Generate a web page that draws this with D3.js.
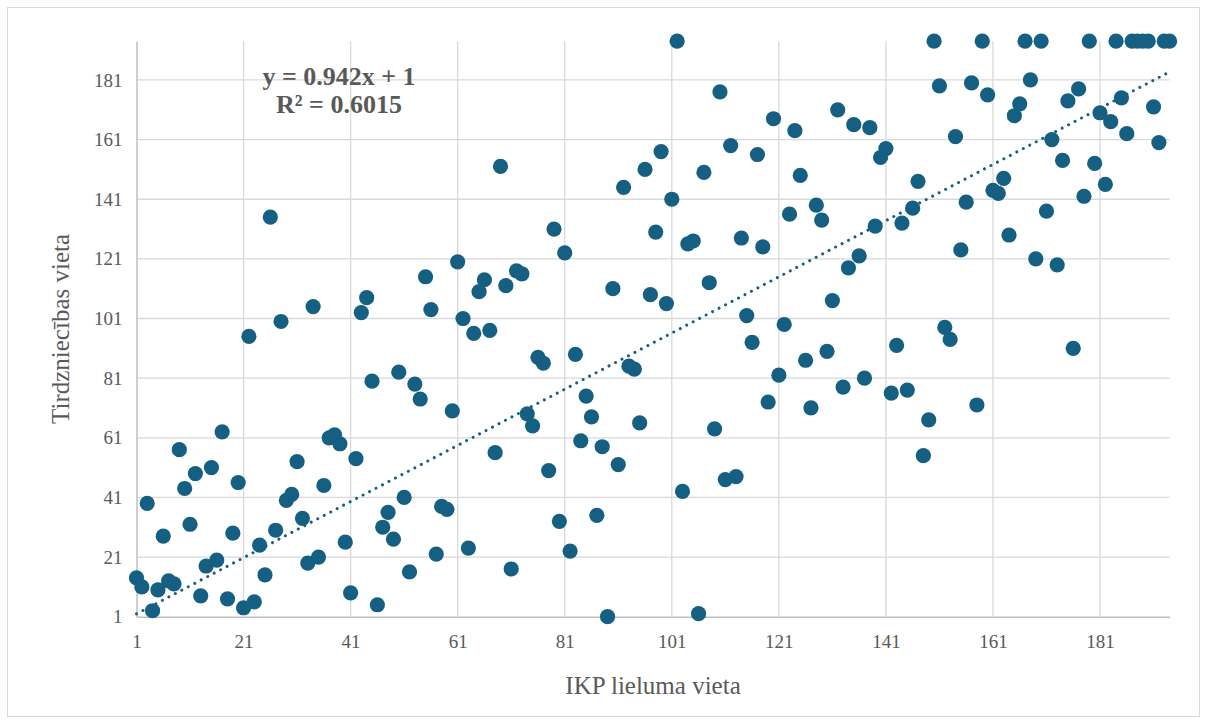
<!DOCTYPE html>
<html>
<head>
<meta charset="utf-8">
<script src="https://cdn.jsdelivr.net/npm/d3@7"></script>
<style>
  html, body { margin: 0; padding: 0; background: #fff; }
  svg { display: block; font-family: "Liberation Serif", "Times New Roman", serif; }
</style>
</head>
<body>
<svg id="chart" width="1207" height="724"></svg>
<script>
// Scatter: GDP size rank (x) vs trade rank (y), with a dotted linear trendline.

// x = IKP lieluma vieta, y = Tirdzniecības vieta (one point per country)
const gdpRank = [
  1, 2, 3, 4, 5, 6, 7, 8, 9, 10, 11, 12, 13, 14, 15, 16, 17, 18, 19, 20,
  21, 22, 23, 24, 25, 26, 27, 28, 29, 30, 31, 32, 33, 34, 35, 36, 37, 38, 39, 40,
  41, 42, 43, 44, 45, 46, 47, 48, 49, 50, 51, 52, 53, 54, 55, 56, 57, 58, 59, 60,
  61, 62, 63, 64, 65, 66, 67, 68, 69, 70, 71, 72, 73, 74, 75, 76, 77, 78, 79, 80,
  81, 82, 83, 84, 85, 86, 87, 88, 89, 90, 91, 92, 93, 94, 95, 96, 97, 98, 99, 100,
  101, 102, 103, 104, 105, 106, 107, 108, 109, 110, 111, 112, 113, 114, 115, 116, 117, 118, 119, 120,
  121, 122, 123, 124, 125, 126, 127, 128, 129, 130, 131, 132, 133, 134, 135, 136, 137, 138, 139, 140,
  141, 142, 143, 144, 145, 146, 147, 148, 149, 150, 151, 152, 153, 154, 155, 156, 157, 158, 159, 160,
  161, 162, 163, 164, 165, 166, 167, 168, 169, 170, 171, 172, 173, 174, 175, 176, 177, 178, 179, 180,
  181, 182, 183, 184, 185, 186, 187, 188, 189, 190, 191, 192, 193, 194
];
const tradeRank = [
  14, 11, 39, 3, 10, 28, 13, 12, 57, 44, 32, 49, 8, 18, 51, 20, 63, 7, 29, 46,
  4, 95, 6, 25, 15, 135, 30, 100, 40, 42, 53, 34, 19, 105, 21, 45, 61, 62, 59, 26,
  9, 54, 103, 108, 80, 5, 31, 36, 27, 83, 41, 16, 79, 74, 115, 104, 22, 38, 37, 70,
  120, 101, 24, 96, 110, 114, 97, 56, 152, 112, 17, 117, 116, 69, 65, 88, 86, 50, 131, 33,
  123, 23, 89, 60, 75, 68, 35, 58, 1, 111, 52, 145, 85, 84, 66, 151, 109, 130, 157, 106,
  141, 194, 43, 126, 127, 2, 150, 113, 64, 177, 47, 159, 48, 128, 102, 93, 156, 125, 73, 168,
  82, 99, 136, 164, 149, 87, 71, 139, 134, 90, 107, 171, 78, 118, 166, 122, 81, 165, 132, 155,
  158, 76, 92, 133, 77, 138, 147, 55, 67, 194, 179, 98, 94, 162, 124, 140, 180, 72, 194, 176,
  144, 143, 148, 129, 169, 173, 194, 181, 121, 194, 137, 161, 119, 154, 174, 91, 178, 142, 194, 153,
  170, 146, 167, 194, 175, 163, 194, 194, 194, 194, 172, 160, 194, 194
];

const tickValues = [1, 21, 41, 61, 81, 101, 121, 141, 161, 181];
const axisDomain = [1, 194];
const trendSlope = 0.942;
const trendIntercept = 1;
const equationLines = ["y = 0.942x + 1", "R² = 0.6015"];
const xTitle = "IKP lieluma vieta";
const yTitle = "Tirdzniecības vieta";

(() => {
  "use strict";

  const WIDTH = 1207;
  const HEIGHT = 724;
  const PLOT_LEFT = 136.5;
  const PLOT_RIGHT = 1169.6;
  const PLOT_TOP = 41.2;
  const PLOT_BOTTOM = 616.7;
  const POINT_RADIUS = 7.6;

  const COLOR_POINT = "#156082";
  const COLOR_GRID = "#d9d9d9";
  const COLOR_AXIS = "#bfbfbf";
  const COLOR_TEXT = "#595959";

  const svg = d3.select("#chart")
    .attr("viewBox", [0, 0, WIDTH, HEIGHT]);

  // Chart frame
  svg.append("rect")
    .attr("x", 7.5)
    .attr("y", 7.5)
    .attr("width", WIDTH - 15)
    .attr("height", HEIGHT - 15)
    .attr("fill", "#fff")
    .attr("stroke", "#d9d9d9")
    .attr("stroke-width", 1);

  const x = d3.scaleLinear().domain(axisDomain).range([PLOT_LEFT, PLOT_RIGHT]);
  const y = d3.scaleLinear().domain(axisDomain).range([PLOT_BOTTOM, PLOT_TOP]);

  // Gridlines
  const gridEl = svg.append("g").attr("class", "grid");
  gridEl.selectAll("line.v")
    .data(tickValues.slice(1))
    .join("line")
    .attr("class", "v")
    .attr("x1", (d) => x(d)).attr("x2", (d) => x(d))
    .attr("y1", PLOT_TOP).attr("y2", PLOT_BOTTOM)
    .attr("stroke", COLOR_GRID)
    .attr("stroke-width", 1.3);
  gridEl.selectAll("line.h")
    .data(tickValues.slice(1))
    .join("line")
    .attr("class", "h")
    .attr("x1", PLOT_LEFT).attr("x2", PLOT_RIGHT)
    .attr("y1", (d) => y(d)).attr("y2", (d) => y(d))
    .attr("stroke", COLOR_GRID)
    .attr("stroke-width", 1.3);

  // Axes (lines drawn at x=1 / y=1, labels via d3 axis)
  const xAxis = d3.axisBottom(x).tickValues(tickValues).tickSize(0).tickPadding(18);
  const yAxis = d3.axisLeft(y).tickValues(tickValues).tickSize(0).tickPadding(14);

  const xAxisEl = svg.append("g")
    .attr("transform", "translate(0," + PLOT_BOTTOM + ")")
    .call(xAxis);
  const yAxisEl = svg.append("g")
    .attr("transform", "translate(" + PLOT_LEFT + ",0)")
    .call(yAxis);

  [xAxisEl, yAxisEl].forEach((el) => {
    el.select(".domain").attr("stroke", COLOR_AXIS).attr("stroke-width", 1.5);
    el.selectAll("text")
      .attr("fill", COLOR_TEXT)
      .attr("font-size", "19px")
      .attr("font-family", "'Liberation Serif', serif");
  });

  // Trendline
  const trendData = axisDomain.map((v) => ({ x: v, y: trendSlope * v + trendIntercept }));
  svg.append("path")
    .datum(trendData)
    .attr("d", d3.line().x((d) => x(d.x)).y((d) => y(d.y)))
    .attr("fill", "none")
    .attr("stroke", COLOR_POINT)
    .attr("stroke-width", 3)
    .attr("stroke-linecap", "round")
    .attr("stroke-dasharray", "0.01 7.3");

  // Points
  const points = gdpRank.map((g, i) => ({ x: g, y: tradeRank[i] }));
  svg.append("g")
    .selectAll("circle")
    .data(points)
    .join("circle")
    .attr("cx", (d) => x(d.x))
    .attr("cy", (d) => y(d.y))
    .attr("r", POINT_RADIUS)
    .attr("fill", COLOR_POINT);

  // Trendline equation
  svg.append("text")
    .attr("x", 339)
    .attr("y", 85)
    .attr("text-anchor", "middle")
    .attr("font-weight", "bold")
    .attr("font-size", "26px")
    .attr("fill", COLOR_TEXT)
    .selectAll("tspan")
    .data(equationLines)
    .join("tspan")
    .attr("x", 339)
    .attr("dy", (d, i) => i === 0 ? 0 : 28)
    .text((d) => d);

  // Axis titles
  svg.append("text")
    .attr("x", (PLOT_LEFT + PLOT_RIGHT) / 2)
    .attr("y", 694)
    .attr("text-anchor", "middle")
    .attr("font-size", "25px")
    .attr("fill", COLOR_TEXT)
    .text(xTitle);

  svg.append("text")
    .attr("transform", "translate(69," + (PLOT_TOP + PLOT_BOTTOM) / 2 + ") rotate(-90)")
    .attr("text-anchor", "middle")
    .attr("font-size", "25px")
    .attr("fill", COLOR_TEXT)
    .text(yTitle);
})();
</script>
</body>
</html>
